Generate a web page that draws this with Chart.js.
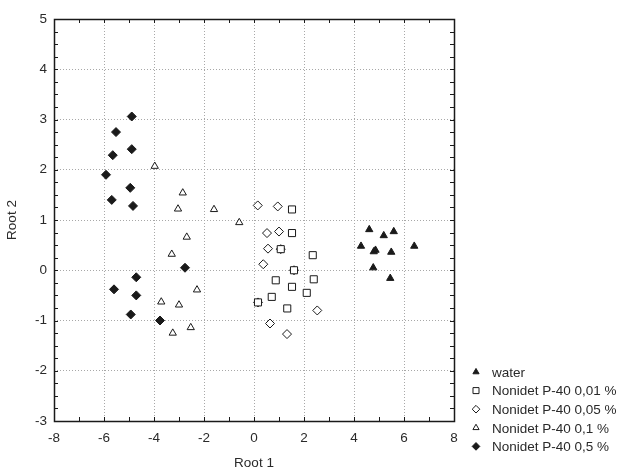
<!DOCTYPE html>
<html>
<head>
<meta charset="utf-8">
<script src="https://cdn.jsdelivr.net/npm/chart.js@4/dist/chart.umd.min.js"></script>
<style>
  html, body { margin: 0; padding: 0; background: #fff; }
  #wrap { width: 621px; height: 469px; }
</style>
</head>
<body>
<div id="wrap"><canvas id="chart"></canvas></div>
<script>
// values (Root 1 / Root 2)
const waterX = [4.61, 5.19, 5.59, 4.28, 4.79, 4.86, 5.49, 6.41, 4.77, 5.45];
const waterY = [0.81, 0.69, 0.77, 0.48, 0.37, 0.40, 0.36, 0.48, 0.05, -0.16];

const np001X = [1.52, 1.52, 2.35, 0.87, 2.39, 1.52, 2.11, 0.71, 1.33, 1.07, 1.60, 0.16];
const np001Y = [1.21, 0.74, 0.30, -0.20, -0.18, -0.33, -0.45, -0.53, -0.76, 0.42, 0.00, -0.64];

const np005X = [0.15, 0.95, 0.52, 1.00, 0.56, 0.37, 2.53, 0.64, 1.32, 1.07, 1.60, 0.16];
const np005Y = [1.29, 1.27, 0.74, 0.77, 0.43, 0.12, -0.80, -1.06, -1.27, 0.42, 0.00, -0.64];

const np01X = [-3.97, -2.85, -3.04, -1.60, -0.59, -2.69, -3.29, -2.28, -3.71, -3.00, -2.53, -3.25];
const np01Y = [2.07, 1.54, 1.22, 1.21, 0.95, 0.66, 0.32, -0.39, -0.63, -0.69, -1.14, -1.25];

const np05X = [-4.89, -5.52, -4.89, -5.65, -5.92, -4.95, -5.69, -4.84, -2.76, -4.71, -5.60, -4.71, -4.93, -3.76];
const np05Y = [3.06, 2.75, 2.41, 2.29, 1.90, 1.64, 1.40, 1.28, 0.05, -0.14, -0.38, -0.50, -0.88, -1.00];

const seriesNames = ['water', 'Nonidet P-40 0,01 %', 'Nonidet P-40 0,05 %', 'Nonidet P-40 0,1 %', 'Nonidet P-40 0,5 %'];

const FONT = 'Arial, "Liberation Sans", sans-serif';
const INK = '#1a1a1a';
const TEXT = '#2a2a2a';

function pts(xs, ys) {
  return xs.map((x, i) => ({ x: x, y: ys[i] }));
}

function series(name, data, style, radius, filled) {
  return {
    label: name,
    data: data,
    pointStyle: style,
    pointRadius: radius,
    pointHoverRadius: radius,
    pointBorderWidth: 1,
    backgroundColor: filled ? INK : '#fff',
    borderColor: INK,
    showLine: false
  };
}

// frame + little inward ticks, like the original statistics package draws
const framePlugin = {
  id: 'frame',
  afterDraw(chart) {
    const ctx = chart.ctx;
    const a = chart.chartArea;
    const xs = chart.scales.x, ys = chart.scales.y;
    ctx.save();
    ctx.strokeStyle = INK;
    ctx.lineWidth = 1;
    ctx.beginPath();
    for (let v = -8; v <= 8; v += 1) {
      const px = Math.round(xs.getPixelForValue(v)) + 0.5;
      ctx.moveTo(px, a.bottom); ctx.lineTo(px, a.bottom - 4);
      ctx.moveTo(px, a.top); ctx.lineTo(px, a.top + 4);
    }
    for (let v = -3; v <= 5; v += 0.25) {
      const py = Math.round(ys.getPixelForValue(v)) + 0.5;
      ctx.moveTo(a.left, py); ctx.lineTo(a.left + 4, py);
      ctx.moveTo(a.right, py); ctx.lineTo(a.right - 4, py);
    }
    ctx.stroke();
    ctx.lineWidth = 1.5;
    ctx.strokeRect(Math.round(a.left) + 0.5, Math.round(a.top) + 0.5,
      Math.round(a.right - a.left), Math.round(a.bottom - a.top));
    ctx.restore();
  }
};

// legend sits bottom right, outside the plot
const legendPlugin = {
  id: 'sideLegend',
  afterDraw(chart) {
    const ctx = chart.ctx;
    const x0 = 476, y0 = 372, step = 18.6;
    ctx.save();
    ctx.font = '13.5px ' + FONT;
    ctx.textBaseline = 'middle';
    chart.data.datasets.forEach((ds, i) => {
      const y = y0 + i * step;
      ctx.fillStyle = ds.backgroundColor;
      ctx.strokeStyle = ds.borderColor;
      ctx.lineWidth = 1;
      Chart.helpers.drawPoint(ctx, {
        pointStyle: ds.pointStyle,
        radius: ds.pointRadius * 0.85,
        rotation: 0,
        borderWidth: 1
      }, x0, y);
      ctx.fillStyle = TEXT;
      ctx.fillText(ds.label, x0 + 16, y + 1);
    });
    ctx.restore();
  }
};

const gridStyle = {
  color: '#a8a8a8',
  lineWidth: 1,
  drawTicks: false
};

new Chart(document.getElementById('chart'), {
  type: 'scatter',
  data: {
    datasets: [
      series(seriesNames[0], pts(waterX, waterY), 'triangle', 4.2, true),
      series(seriesNames[1], pts(np001X, np001Y), 'rect', 5, false),
      series(seriesNames[2], pts(np005X, np005Y), 'rectRot', 4.5, false),
      series(seriesNames[3], pts(np01X, np01Y), 'triangle', 4.2, false),
      series(seriesNames[4], pts(np05X, np05Y), 'rectRot', 4.5, true)
    ]
  },
  options: {
    responsive: true,
    maintainAspectRatio: false,
    animation: false,
    layout: { padding: { left: 0, top: 19, right: 167, bottom: 0 } },
    plugins: {
      legend: { display: false },
      tooltip: { enabled: false }
    },
    scales: {
      x: {
        type: 'linear',
        min: -8, max: 8,
        ticks: { stepSize: 2, padding: 9, color: TEXT, font: { family: FONT, size: 13.5 } },
        grid: gridStyle,
        border: { display: false, dash: [1, 2] },
        title: { display: true, text: 'Root 1', color: TEXT, font: { family: FONT, size: 13.5 }, padding: { top: 0, bottom: -2 } },
        afterFit(scale) { scale.height = 48; }
      },
      y: {
        type: 'linear',
        min: -3, max: 5,
        ticks: { stepSize: 1, padding: 7, color: TEXT, font: { family: FONT, size: 13.5 } },
        grid: gridStyle,
        border: { display: false, dash: [1, 2] },
        title: { display: true, text: 'Root 2', color: TEXT, font: { family: FONT, size: 13.5 }, padding: { top: 4, bottom: 0 } },
        afterFit(scale) { scale.width = 54; }
      }
    }
  },
  plugins: [framePlugin, legendPlugin]
});
</script>
</body>
</html>
